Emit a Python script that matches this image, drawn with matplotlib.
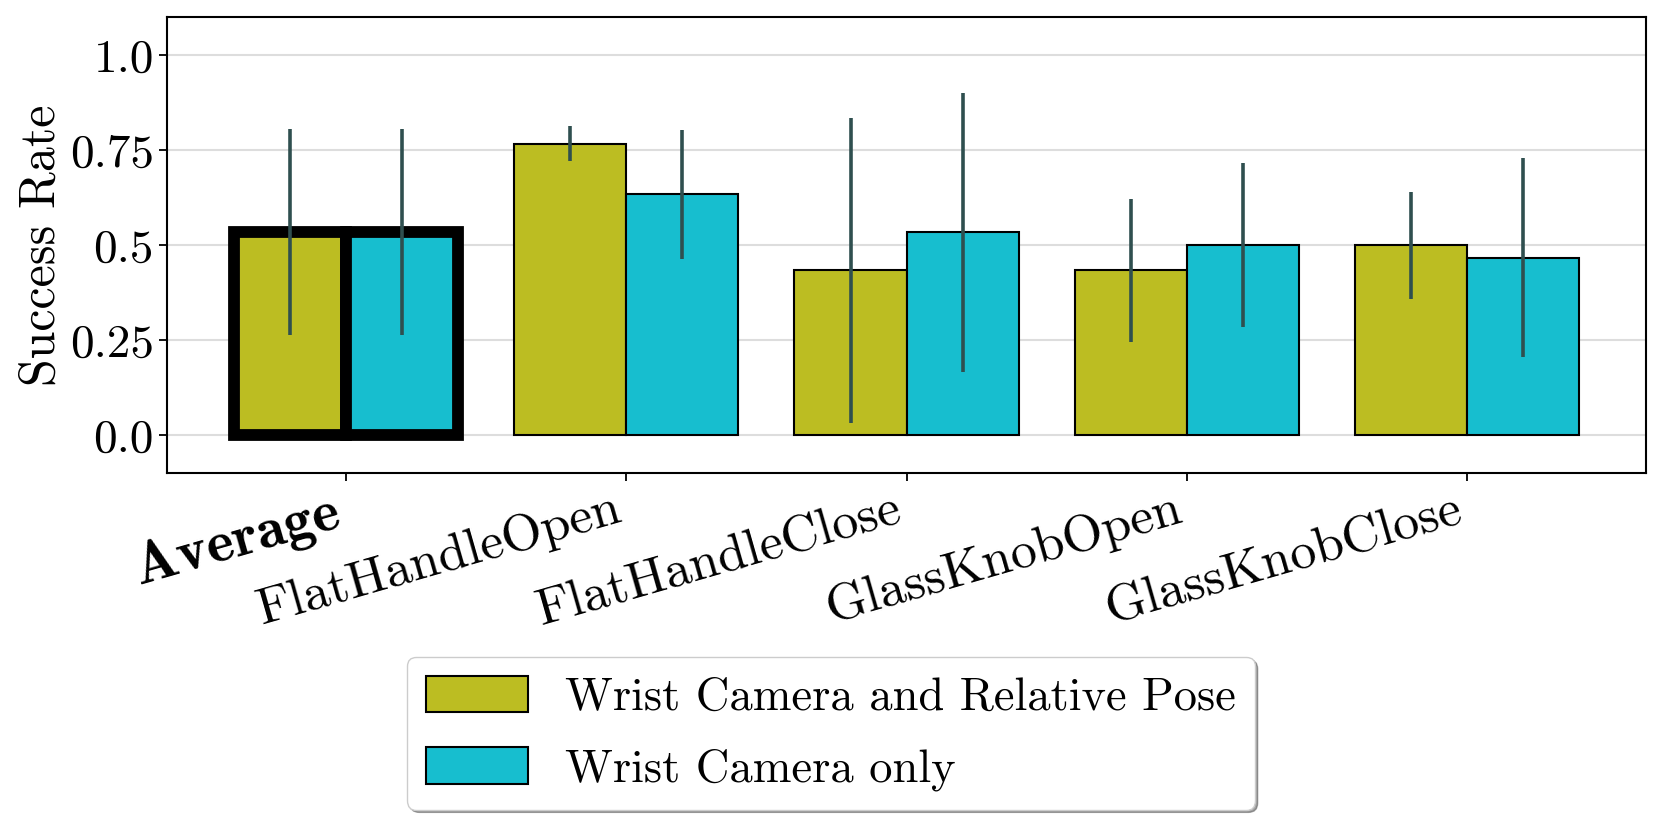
import matplotlib
matplotlib.use("Agg")
import matplotlib.pyplot as plt
from matplotlib.patches import Patch
import numpy as np

plt.rcParams['font.family'] = ['cmr10', 'DejaVu Serif']
plt.rcParams['axes.formatter.use_mathtext'] = True
plt.rcParams['mathtext.fontset'] = 'cm'

categories = ["Average", "FlatHandleOpen", "FlatHandleClose", "GlassKnobOpen", "GlassKnobClose"]
series_names = ["Wrist Camera and Relative Pose", "Wrist Camera only"]
pose_mean = [0.533, 0.767, 0.433, 0.433, 0.500]
pose_low = [0.262, 0.720, 0.032, 0.245, 0.359]
pose_high = [0.805, 0.812, 0.834, 0.621, 0.640]
wrist_mean = [0.533, 0.633, 0.533, 0.500, 0.467]
wrist_low = [0.262, 0.464, 0.166, 0.285, 0.204]
wrist_high = [0.805, 0.802, 0.900, 0.715, 0.728]
yticks = [0.0, 0.25, 0.5, 0.75, 1.0]
ytick_labels = ["0.0", "0.25", "0.5", "0.75", "1.0"]

colors = ["#bcbd22", "#17becf"]
err_color = "#2f4f4f"

fig = plt.figure(figsize=(16.62, 8.31), dpi=100)
ax = fig.add_axes([0.1005, 0.4308, 0.8899, 0.5487])

x = np.arange(len(categories))
w = 0.4
series = [(pose_mean, pose_low, pose_high), (wrist_mean, wrist_low, wrist_high)]
for i, (m, lo, hi) in enumerate(series):
    m = np.array(m); lo = np.array(lo); hi = np.array(hi)
    xs = x + (i - 0.5) * w
    lws = [8.5] + [1.5] * (len(categories) - 1)
    ax.bar(xs, m, width=w, color=colors[i], edgecolor='black', linewidth=lws, zorder=2)
    ax.errorbar(xs, m, yerr=[m - lo, hi - m], fmt='none', ecolor=err_color,
                elinewidth=2.6, capsize=0, zorder=3)

ax.set_xlim(-0.64, 4.64)
ax.set_ylim(-0.1, 1.1)
ax.set_yticks(yticks)
ax.set_yticklabels(ytick_labels)
ax.set_xticks(x)
labels = ax.set_xticklabels(categories, rotation=16, ha='right')
ax.tick_params(axis='y', labelsize=34, length=6, width=1.3)
ax.tick_params(axis='x', labelsize=37.5, length=6, width=1.3)
labels[0].set_fontfamily('cmb10')
labels[0].set_fontsize(42)
ax.set_ylabel("Success Rate", fontsize=36)
ax.yaxis.grid(True, color='#dddddd', linewidth=1.5, zorder=0)
ax.set_axisbelow(True)
for s in ax.spines.values():
    s.set_linewidth(1.5)

handles = [Patch(facecolor=colors[i], edgecolor='black', linewidth=1.5, label=series_names[i])
           for i in range(2)]
fig.legend(handles=handles, loc='upper center', bbox_to_anchor=(0.5, 0.2375),
           fontsize=33.5, shadow=True, fancybox=True, framealpha=1, edgecolor='#cccccc',
           handlelength=2.2, handleheight=0.84, labelspacing=0.6)

fig.savefig("out.png", dpi=100)
